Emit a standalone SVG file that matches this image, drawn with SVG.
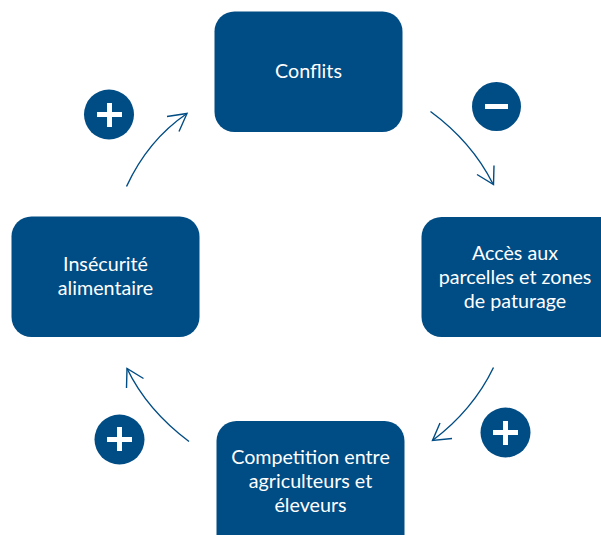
<svg xmlns="http://www.w3.org/2000/svg" width="601" height="535" viewBox="0 0 601 535">
<style>
.box{fill:#004c84}
.t{font-family:Lato,"Liberation Sans",sans-serif;font-size:19.7px;fill:#fff;text-anchor:middle}
.c{fill:none;stroke:#004c84;stroke-width:1.4}
.badge{fill:#004c84}
.sign{fill:#fff}
</style>
<rect width="601" height="535" fill="#fff"/>
<g id="connectors">
<path class="c" d="M430.500 111.500Q472 142 493 184"/><path class="c" d="M477 174.500L493.500 184.500L494 165.500"/>
<path class="c" d="M126.500 186.500Q148 140 187 113.500"/><path class="c" d="M167 116.500L187 113.500L179 131.500"/>
<path class="c" d="M189 441.500Q147 410 127 368.500"/><path class="c" d="M126.500 388L127 368.500L143.500 378.500"/>
<path class="c" d="M493.500 367.500Q473 410 432.500 440.500"/><path class="c" d="M440 423L432.500 440.500L452 438.500"/>
</g>
<g id="node-conflits"><rect class="box" x="214.500" y="11.500" width="188" height="120.500" rx="20"/><text class="t" x="308.500" y="78">Conflits</text></g>
<g id="node-acces"><rect class="box" x="421.500" y="217" width="200" height="120" rx="20"/><text class="t"><tspan x="515" y="259.500">Accès aux</tspan><tspan x="515" y="283.500">parcelles et zones</tspan><tspan x="515" y="307.500">de paturage</tspan></text></g>
<g id="node-competition"><rect class="box" x="216.500" y="421" width="188" height="140" rx="20"/><text class="t"><tspan x="310.500" y="463.500">Competition entre</tspan><tspan x="310.500" y="487.500">agriculteurs et</tspan><tspan x="310.500" y="511.500">éleveurs</tspan></text></g>
<g id="node-insecurite"><rect class="box" x="11.500" y="216.500" width="188" height="120.500" rx="20"/><text class="t"><tspan x="105.500" y="271">Insécurité</tspan><tspan x="105.500" y="295">alimentaire</tspan></text></g>
<g id="badge-minus"><circle class="badge" cx="496.500" cy="106.500" r="24.500"/><rect class="sign" x="485" y="104" width="23" height="5"/></g>
<g id="badge-plus-1"><circle class="badge" cx="109" cy="114.500" r="25"/><rect class="sign" x="97" y="112" width="25" height="5"/><rect class="sign" x="107" y="103" width="5" height="24"/></g>
<g id="badge-plus-2"><circle class="badge" cx="119.500" cy="439.500" r="25"/><rect class="sign" x="107" y="437" width="25" height="5"/><rect class="sign" x="117" y="427" width="5" height="24"/></g>
<g id="badge-plus-3"><circle class="badge" cx="505.500" cy="432.500" r="25"/><rect class="sign" x="493" y="430" width="25" height="5"/><rect class="sign" x="503" y="421" width="5" height="24"/></g>
</svg>
